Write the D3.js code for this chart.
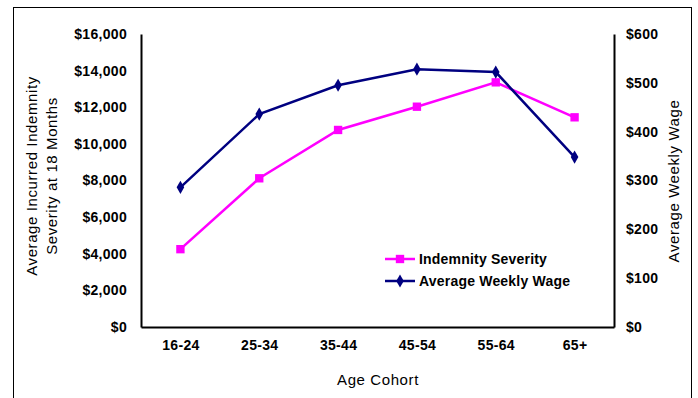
<!DOCTYPE html>
<html>
<head>
<meta charset="utf-8">
<script src="https://cdn.jsdelivr.net/npm/d3@7"></script>
<style>
  body { margin: 0; background: #fff; }
  text { font-family: "Liberation Sans", Arial, sans-serif; fill: #000; }
  .tick-label { font-size: 14px; font-weight: bold; letter-spacing: 0.3px; }
  .title { font-size: 15px; letter-spacing: 0.6px; }
  .legend-label { font-size: 14px; font-weight: bold; letter-spacing: 0.2px; }
</style>
</head>
<body>
<div id="chart"></div>
<script>
// chart data
const ageCohorts = ["16-24", "25-34", "35-44", "45-54", "55-64", "65+"];
const indemnitySeverity = [4250, 8120, 10760, 12030, 13360, 11450];
const weeklyWage = [286, 436, 495, 528, 522, 348];
const leftTicks = [0, 2000, 4000, 6000, 8000, 10000, 12000, 14000, 16000];
const rightTicks = [0, 100, 200, 300, 400, 500, 600];

const WIDTH = 698;
const HEIGHT = 398;
const PLOT = {left: 141, right: 614, top: 34, bottom: 327};

const svg = d3.select("#chart")
  .append("svg")
    .attr("width", WIDTH)
    .attr("height", HEIGHT);

// outer frame
svg.append("rect")
  .attr("x", 13.5)
  .attr("y", 7.5)
  .attr("width", 678)
  .attr("height", 400)
  .attr("fill", "none")
  .attr("stroke", "#000")
  .attr("stroke-width", 1);

// scales
const x = d3.scalePoint()
  .domain(ageCohorts)
  .range([PLOT.left, PLOT.right])
  .padding(0.5);

const yLeft = d3.scaleLinear()
  .domain([0, 16000])
  .range([PLOT.bottom, PLOT.top]);

const yRight = d3.scaleLinear()
  .domain([0, 600])
  .range([PLOT.bottom, PLOT.top]);

// axes, no tick marks
const fmt = d3.format("$,");

const leftAxis = svg.append("g")
  .attr("transform", `translate(${PLOT.left},0)`)
  .call(d3.axisLeft(yLeft).tickValues(leftTicks).tickFormat(fmt).tickSize(0).tickPadding(14));

const rightAxis = svg.append("g")
  .attr("transform", `translate(${PLOT.right},0)`)
  .call(d3.axisRight(yRight).tickValues(rightTicks).tickFormat(fmt).tickSize(0).tickPadding(12));

const bottomAxis = svg.append("g")
  .attr("transform", `translate(0,${PLOT.bottom})`)
  .call(d3.axisBottom(x).tickSize(0).tickPadding(13));

[leftAxis, rightAxis, bottomAxis].forEach((g) => {
  g.select(".domain").attr("stroke", "#000").attr("stroke-width", 2);
  g.selectAll("text")
    .attr("class", "tick-label")
    .attr("font-family", null)
    .attr("font-size", null);
});

// axis titles
svg.append("text")
  .attr("class", "title")
  .attr("x", 378)
  .attr("y", 385)
  .attr("text-anchor", "middle")
  .text("Age Cohort");

const leftTitle = svg.append("text")
  .attr("class", "title")
  .attr("transform", "translate(37,176) rotate(-90)")
  .attr("text-anchor", "middle");
leftTitle.append("tspan").attr("x", 0).attr("dy", 0).text("Average Incurred Indemnity");
leftTitle.append("tspan").attr("x", 0).attr("dy", 20).text("Severity at 18 Months");

svg.append("text")
  .attr("class", "title")
  .attr("transform", "translate(679,181) rotate(-90)")
  .attr("text-anchor", "middle")
  .text("Average Weekly Wage");

// series lines
const PINK = "#ff00ff";
const NAVY = "#000080";

const wageLine = d3.line()
  .x((d, i) => x(ageCohorts[i]))
  .y((d) => yRight(d));

const severityLine = d3.line()
  .x((d, i) => x(ageCohorts[i]))
  .y((d) => yLeft(d));

svg.append("path")
  .datum(indemnitySeverity)
  .attr("d", severityLine)
  .attr("fill", "none")
  .attr("stroke", PINK)
  .attr("stroke-width", 2.5);

svg.append("path")
  .datum(weeklyWage)
  .attr("d", wageLine)
  .attr("fill", "none")
  .attr("stroke", NAVY)
  .attr("stroke-width", 2.5);

// markers
const square = d3.symbol().type(d3.symbolSquare).size(70);
const diamond = d3.symbol().type(d3.symbolDiamond).size(50);

svg.selectAll(".sev-point")
  .data(indemnitySeverity)
  .enter()
  .append("path")
    .attr("class", "sev-point")
    .attr("d", square)
    .attr("transform", (d, i) => `translate(${x(ageCohorts[i])},${yLeft(d)})`)
    .attr("fill", PINK);

svg.selectAll(".wage-point")
  .data(weeklyWage)
  .enter()
  .append("path")
    .attr("class", "wage-point")
    .attr("d", diamond)
    .attr("transform", (d, i) => `translate(${x(ageCohorts[i])},${yRight(d)})`)
    .attr("fill", NAVY);

// legend
const legendItems = [
  {label: "Indemnity Severity", color: PINK, symbol: square, y: 259},
  {label: "Average Weekly Wage", color: NAVY, symbol: diamond, y: 281}
];

legendItems.forEach((item) => {
  svg.append("line")
    .attr("x1", 385).attr("x2", 415)
    .attr("y1", item.y).attr("y2", item.y)
    .attr("stroke", item.color)
    .attr("stroke-width", 2.5);
  svg.append("path")
    .attr("d", item.symbol)
    .attr("transform", `translate(400,${item.y})`)
    .attr("fill", item.color);
  svg.append("text")
    .attr("class", "legend-label")
    .attr("x", 419)
    .attr("y", item.y + 5)
    .text(item.label);
});
</script>
</body>
</html>
